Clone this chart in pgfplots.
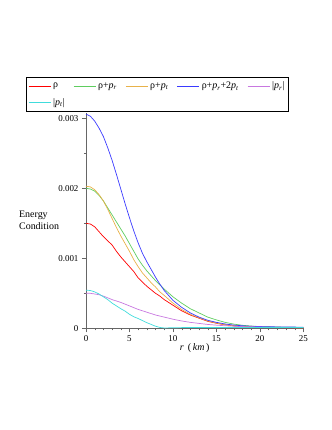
\documentclass[border=0pt]{standalone}
\usepackage{fontspec}
\setmainfont{Liberation Serif}
\usepackage{pgfplots}
\pgfplotsset{compat=1.18}

\definecolor{cRho}{RGB}{255,0,0}
\definecolor{cRhoPr}{RGB}{95,205,95}
\definecolor{cRhoPt}{RGB}{232,178,74}
\definecolor{cSum}{RGB}{58,58,255}
\definecolor{cPr}{RGB}{200,120,224}
\definecolor{cPt}{RGB}{64,220,220}

\begin{document}
\begin{tikzpicture}
\begin{axis}[
    at={(0,0)}, anchor=south west,
    scale only axis,
    width=217.3bp, height=215.6bp,
    xmin=0, xmax=25,
    ymin=0, ymax=0.00308,
    axis lines=left,
    axis line style={-, draw=gray!80!black},
    tick align=outside,
    major tick length=4bp,
    minor tick length=2bp,
    tick style={draw=gray!80!black},
    xtick={0,5,10,15,20,25},
    minor x tick num=4,
    ytick={0,0.001,0.002,0.003},
    minor y tick num=1,
    scaled y ticks=false,
    yticklabel style={/pgf/number format/fixed, /pgf/number format/precision=3},
    /pgf/number format/assume math mode=true,
    tick label style={font=\fontsize{9}{10}\selectfont},
    xlabel={\textit{r}\, (\,\textit{km}\,)},
    xlabel style={font=\fontsize{10}{12}\selectfont, at={(axis description cs:0.5,0)}, anchor=north, yshift=-12bp},
    ylabel={Energy\\Condition},
    ylabel style={rotate=-90, align=left, font=\fontsize{10}{12}\selectfont,
                  at={(axis description cs:-0.216,0.50)}, anchor=center},
    legend columns=5,
    legend cell align=left,
    legend style={at={(axis description cs:-0.276,1.167)}, anchor=north west,
                  draw=black, font=\fontsize{10}{12}\selectfont,
                  inner xsep=2bp, inner ysep=3bp, row sep=4bp,
                  /tikz/every even column/.append style={column sep=6.5bp}},
    legend image code/.code={\draw[line width=0.9pt,#1] (0bp,0bp) -- (22bp,0bp);},
    every axis plot/.append style={line width=0.7pt},
    clip=false,
]
% rho
\addplot[color=cRho] coordinates {
(0,0.00150)(0.5,0.00149)(1,0.00145)(1.5,0.00138)(2,0.00131)(2.5,0.00125)(3,0.00119)
(3.5,0.00110)(4,0.00102)(4.5,0.00095)(5,0.00088)(5.5,0.00081)(6,0.00072)(6.5,0.00066)
(7,0.00060)(7.5,0.00055)(8,0.00050)(8.5,0.00046)(9,0.00041)(10,0.00033)(11,0.00025)
(12,0.00019)(13,0.000145)(14,0.00010)(15,0.000072)(16,0.00005)(17,0.000035)(18,0.000026)
(19,0.00002)(20,0.000015)(22,0.00001)(25,0.000007)
};
% rho + p_r
\addplot[color=cRhoPr] coordinates {
(0,0.00200)(0.5,0.00199)(1,0.00196)(1.5,0.00190)(2,0.00182)(2.5,0.00172)(3,0.00162)
(3.5,0.00152)(4,0.00142)(4.5,0.00132)(5,0.00121)(5.5,0.00110)(6,0.00099)(6.5,0.00090)
(7,0.00082)(7.5,0.00075)(8,0.00068)(8.5,0.00062)(9,0.00056)(10,0.00045)(11,0.00036)
(12,0.00028)(13,0.00022)(14,0.00016)(15,0.00012)(16,0.000085)(17,0.00006)(18,0.000043)
(19,0.000032)(20,0.000025)(22,0.000018)(25,0.000012)
};
% rho + p_t
\addplot[color=cRhoPt] coordinates {
(0,0.00203)(0.5,0.00202)(1,0.00198)(1.5,0.00191)(2,0.00182)(2.5,0.00170)(3,0.00157)
(3.5,0.00144)(4,0.00132)(4.5,0.00121)(5,0.00110)(5.5,0.00098)(6,0.00088)(6.5,0.00079)
(7,0.00072)(7.5,0.00065)(8,0.00059)(8.5,0.00052)(9,0.00047)(10,0.00036)(11,0.00027)
(12,0.00020)(13,0.00015)(14,0.000105)(15,0.000075)(16,0.000052)(17,0.000036)(18,0.000027)
(19,0.00002)(20,0.000016)(22,0.000012)(25,0.000008)
};
% rho + p_r + 2 p_t
\addplot[color=cSum] coordinates {
(0,0.00306)(0.5,0.00303)(1,0.00296)(1.5,0.00286)(2,0.00274)(2.5,0.00258)(3,0.00240)
(3.5,0.00220)(4,0.00199)(4.5,0.00178)(5,0.00158)(5.5,0.00139)(6,0.00122)(6.5,0.00107)
(7,0.00095)(7.5,0.00084)(8,0.00073)(8.5,0.00063)(9,0.00054)(10,0.00040)(11,0.00030)
(12,0.00022)(13,0.00016)(14,0.000115)(15,0.000085)(16,0.000062)(17,0.000046)(18,0.000036)
(19,0.000029)(20,0.000025)(22,0.00002)(25,0.000016)
};
% |p_r|
\addplot[color=cPr] coordinates {
(0,0.00050)(0.5,0.00050)(1,0.00049)(1.5,0.00048)(2,0.00046)(3,0.00041)(4,0.00037)
(5,0.00032)(6,0.00027)(7,0.00023)(8,0.00019)(9,0.00016)(10,0.00013)(11,0.000105)
(12,0.000085)(13,0.00007)(14,0.000055)(15,0.000045)(16,0.000036)(18,0.000025)
(20,0.000018)(22,0.000014)(25,0.00001)
};
% |p_t|
\addplot[color=cPt] coordinates {
(0,0.000545)(0.5,0.00054)(1,0.00052)(1.5,0.00049)(2,0.00045)(2.5,0.00041)(3,0.00036)
(3.5,0.00032)(4,0.00028)(4.5,0.000245)(5,0.00020)(5.5,0.000165)(6,0.00014)(6.5,0.00011)
(7,0.00008)(7.5,0.000055)(8,0.00003)(8.5,0.000012)(9,0.000005)(10,0.000008)(12,0.000012)
(15,0.000012)(20,0.000012)(25,0.000012)
};
\legend{ρ, ρ+\textit{p}\textsubscript{\textit{r}}, ρ+\textit{p}\textsubscript{\textit{t}},
        ρ+\textit{p}\textsubscript{\textit{r}}+2\textit{p}\textsubscript{\textit{t}},
        |\textit{p}\textsubscript{\textit{r}}|, |\textit{p}\textsubscript{\textit{t}}|}
\end{axis}
\path[use as bounding box] (-86bp,-101.7bp) rectangle (246bp,328.3bp);
\end{tikzpicture}
\end{document}
